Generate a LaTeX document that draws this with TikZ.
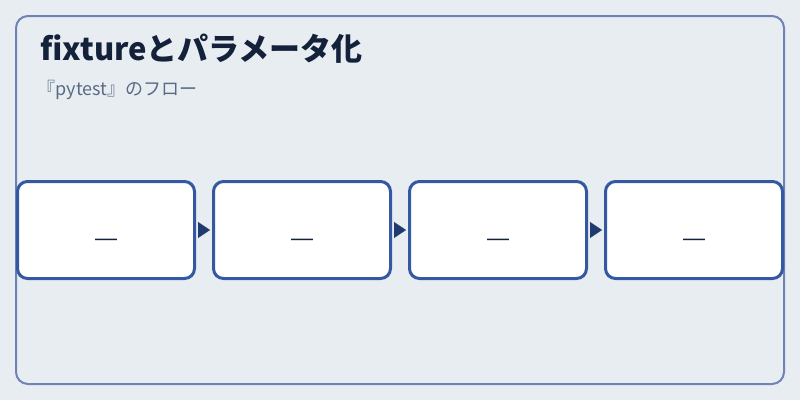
\documentclass[tikz,border=0pt]{standalone}
\usepackage{fontspec}
\setmainfont{Noto Sans CJK JP}
\newfontfamily\dashfont{Liberation Sans}
\usetikzlibrary{arrows.meta,calc}
\definecolor{bgc}{HTML}{E8EDF2}
\definecolor{framec}{HTML}{6B84B4}
\definecolor{boxc}{HTML}{3558A3}
\definecolor{arrc}{HTML}{1E3A6E}
\definecolor{titlec}{HTML}{14213A}
\definecolor{subc}{HTML}{5B6B84}
\tikzset{
  stepbox/.style={draw=boxc, fill=white, line width=3pt, rounded corners=10pt,
    minimum width=177pt, minimum height=97pt, inner sep=0pt},
  dashlabel/.style={anchor=center, text=titlec, font=\dashfont\fontsize{22}{22}\selectfont},
  flowarrow/.style={draw=arrc, line width=0.2pt, -{Triangle[length=12pt,width=16pt,fill=arrc]}, shorten <=3pt, shorten >=2pt},
  frame/.style={draw=framec, line width=2pt, rounded corners=12pt},
}
\begin{document}
\begin{tikzpicture}[x=1pt,y=-1pt]
\fill[bgc] (0,0) rectangle (800,400);
\useasboundingbox (0,0) rectangle (800,400);
\draw[frame] (16,16) rectangle (784,384);
\node[anchor=base west, text=titlec, font=\fontsize{31}{31}\selectfont\bfseries] (title) at (37,60) {fixtureとパラメータ化};
\node[anchor=base west, text=subc, font=\fontsize{18}{18}\selectfont] (sub) at (34,95) {『pytest』のフロー};
\node[stepbox] (b1) at (106,230) {};
\node[stepbox] (b2) at (302,230) {};
\node[stepbox] (b3) at (498,230) {};
\node[stepbox] (b4) at (694,230) {};
\foreach \n in {b1,b2,b3,b4}{
  \node[dashlabel] (d\n) at ($(\n.center)+(0,12)$) {—};
}
\draw[flowarrow] (b1.east) -- (b2.west);
\draw[flowarrow] (b2.east) -- (b3.west);
\draw[flowarrow] (b3.east) -- (b4.west);
\end{tikzpicture}
\end{document}
